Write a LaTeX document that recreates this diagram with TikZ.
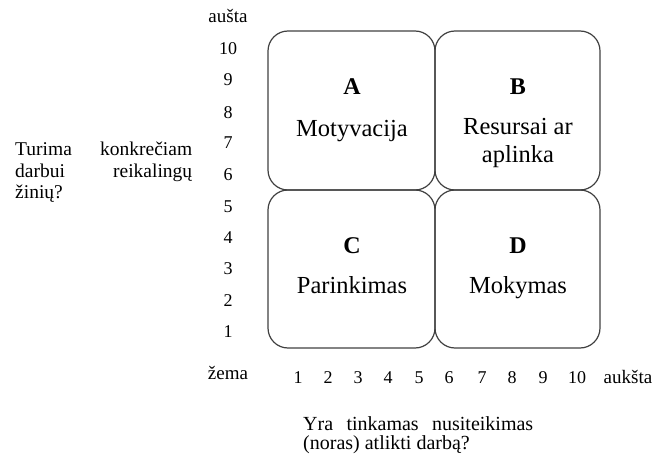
\documentclass[tikz,border=0pt]{standalone}
\usepackage{fontspec}
\setmainfont{Liberation Serif}
\begin{document}
\begin{tikzpicture}[x=1pt,y=-1pt,
  quad/.style={draw=black!75, line width=1.2pt, rounded corners=20pt, inner sep=0pt},
  boxtxt/.style={font=\fontsize{24.5}{28}\selectfont, anchor=base, inner sep=0pt},
  boxlet/.style={font=\fontsize{24}{28}\selectfont\bfseries, anchor=base, inner sep=0pt},
  axnum/.style={font=\fontsize{18}{20}\selectfont, anchor=base, inner sep=0pt},
  axlab/.style={font=\fontsize{19}{20}\selectfont, anchor=base, inner sep=0pt},
  qtxt/.style={anchor=base west, inner sep=0pt}]
\useasboundingbox (0,0) rectangle (654,460);
% quadrants
\node[quad, minimum width=167pt, minimum height=159pt] (A) at (351.5,110.5) {};
\node[quad, minimum width=165pt, minimum height=159pt] (B) at (517.5,110.5) {};
\node[quad, minimum width=167pt, minimum height=158pt] (C) at (351.5,269) {};
\node[quad, minimum width=165pt, minimum height=158pt] (D) at (517.5,269) {};
% quadrant texts
\node[boxlet] (la) at (352,95) {A};
\node[boxtxt] (ta) at (352,136) {Motyvacija};
\node[boxlet] (lb) at (518,95) {B};
\node[boxtxt] (tb1) at (518,135) {Resursai ar};
\node[boxtxt] (tb2) at (518,162) {aplinka};
\node[boxlet] (lc) at (352,253) {C};
\node[boxtxt] (tc) at (352,293) {Parinkimas};
\node[boxlet] (ld) at (518,253) {D};
\node[boxtxt] (td) at (518,293) {Mokymas};
% y axis
\node[axlab] (ytop) at (228,23) {aušta};
\foreach \v/\yy in {10/55,9/86,8/118,7/149,6/180,5/212,4/243,3/274,2/306,1/337}
  \node[axnum] (y\v) at (228,\yy) {\v};
% x axis
\node[axlab] (xlow) at (228,379) {žema};
\foreach \v/\xx in {1/298,2/328,3/358,4/388,5/419,6/449,7/482,8/512,9/543,10/577}
  \node[axnum] (x\v) at (\xx,383) {\v};
\node[axlab] (xhigh) at (628,383) {aukšta};
% left question
\node[qtxt, font=\fontsize{19.5}{21}\selectfont] (q1a) at (15,155) {\hbox to 177pt{Turima\hfill konkrečiam}};
\node[qtxt, font=\fontsize{19.5}{21}\selectfont] (q1b) at (15,177) {\hbox to 177pt{darbui\hfill reikalingų}};
\node[qtxt, font=\fontsize{19.5}{21}\selectfont] (q1c) at (15,198) {žinių?};
% bottom question
\node[qtxt, font=\fontsize{20}{21}\selectfont] (q2a) at (303,430) {\hbox to 230pt{Yra\hfill tinkamas\hfill nusiteikimas}};
\node[qtxt, font=\fontsize{20}{21}\selectfont] (q2b) at (303,449) {(noras) atlikti darbą?};
\end{tikzpicture}
\end{document}
